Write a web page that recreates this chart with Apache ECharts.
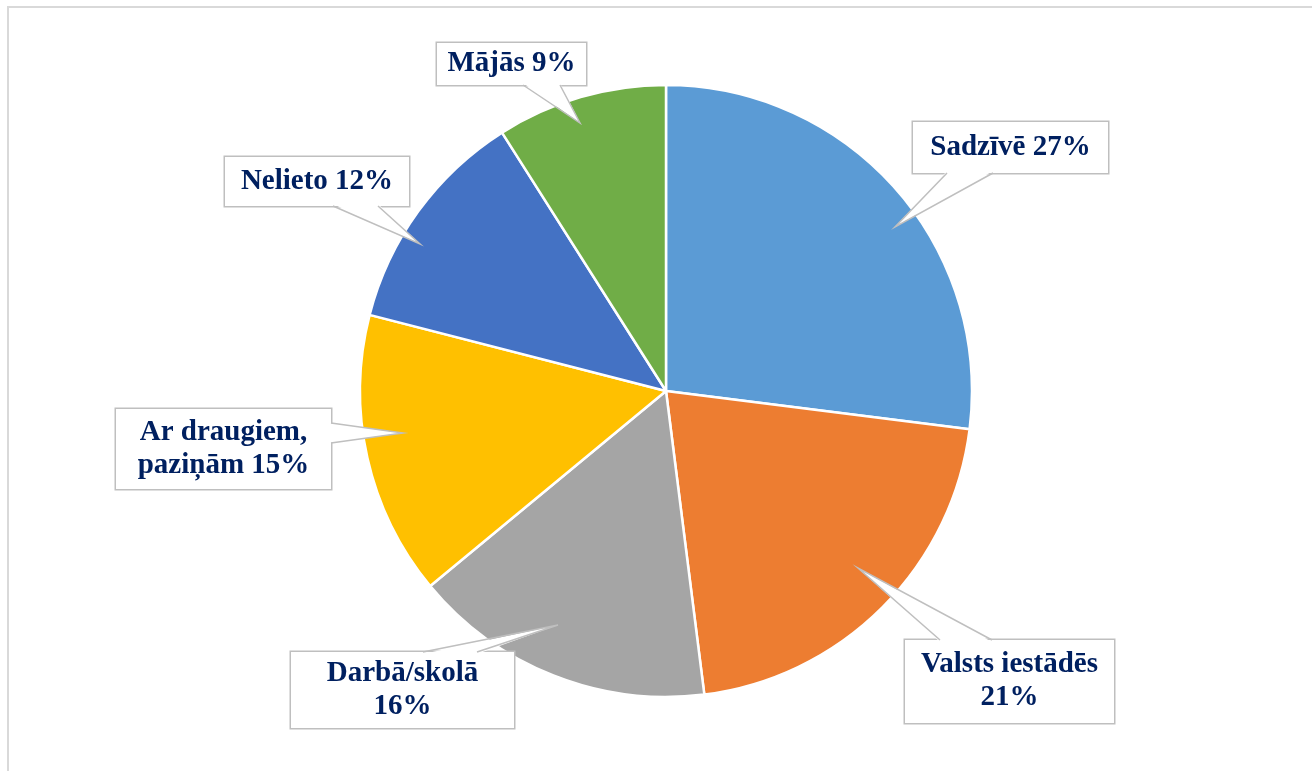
<!DOCTYPE html>
<html>
<head>
<meta charset="utf-8">
<script src="https://cdn.jsdelivr.net/npm/echarts@6/dist/echarts.min.js"></script>
<style>
  html, body { margin: 0; padding: 0; background: #fff; }
  #chart { width: 1312px; height: 771px; }
</style>
</head>
<body>
<div id="chart"></div>
<script>
// dati
const categories = ['Sadzīvē', 'Valsts iestādēs', 'Darbā/skolā', 'Ar draugiem, paziņām', 'Nelieto', 'Mājās'];
const values = [27, 21, 16, 15, 12, 9];
const colors = ['#5B9BD5', '#ED7D31', '#A5A5A5', '#FFC000', '#4472C4', '#70AD47'];
// etiķešu teksts (kā attēlā)
const labelTexts = ['Sadzīvē 27%', 'Valsts iestādēs\n21%', 'Darbā/skolā\n16%', 'Ar draugiem,\npaziņām 15%', 'Nelieto 12%', 'Mājās 9%'];

// etiķešu rāmji: centrs x, y, platums, augstums
const boxes = [
  [1010.5, 147.5, 195, 51],
  [1009.5, 681.5, 209, 83],
  [402.5, 690, 223, 76],
  [223.5, 449, 215, 80],
  [317, 181.5, 184, 49],
  [511.5, 64, 149, 42]
];
// izsaukumu "astes": rāmja mala (pamats), pamata punkti un gals
const callouts = [
  { side: 'bottom', a: [947, 173], b: [993, 173], tip: [895, 227] },
  { side: 'top', a: [940, 640], b: [992, 640], tip: [858, 568] },
  { side: 'top', a: [423, 652], b: [477, 652], tip: [558, 625] },
  { side: 'right', a: [331, 423], b: [331, 443], tip: [403, 433] },
  { side: 'bottom', a: [333, 206], b: [378, 206], tip: [420, 244] },
  { side: 'bottom', a: [523, 85], b: [560, 85], tip: [580, 123] }
];

const chart = echarts.init(document.getElementById('chart'), null, { renderer: 'canvas' });

const seriesData = categories.map((name, i) => {
  const lines = labelTexts[i].split('\n').length;
  const padV = Math.max(0, (boxes[i][3] - lines * 33) / 2);
  return {
    name: name,
    value: values[i],
    itemStyle: { color: colors[i] },
    label: {
      width: boxes[i][2] - 4,
      padding: [padV, 2, padV, 2]
    }
  };
});

// izsaukumu astes (balts pildījums + pelēka kontūra)
const shift = { bottom: [0, -2], top: [0, 2], right: [-2, 0], left: [2, 0] };
const calloutGraphics = [];
callouts.forEach(c => {
  const s = shift[c.side];
  calloutGraphics.push({
    type: 'polygon',
    z: 100,
    silent: true,
    shape: { points: [[c.a[0] + s[0], c.a[1] + s[1]], c.tip, [c.b[0] + s[0], c.b[1] + s[1]]] },
    style: { fill: '#fff', stroke: null }
  });
  calloutGraphics.push({
    type: 'polyline',
    z: 101,
    silent: true,
    shape: { points: [c.a, c.tip, c.b] },
    style: { fill: null, stroke: '#BFBFBF', lineWidth: 1.5 }
  });
});

chart.setOption({
  animation: false,
  backgroundColor: '#fff',
  graphic: [
    {
      type: 'rect',
      silent: true,
      shape: { x: 8, y: 7, width: 1320, height: 780 },
      style: { fill: 'none', stroke: '#D9D9D9', lineWidth: 2 }
    }
  ].concat(calloutGraphics),
  series: [
    {
      type: 'pie',
      center: [666, 391],
      radius: 306,
      startAngle: 90,
      clockwise: true,
      data: seriesData,
      itemStyle: {
        borderColor: '#fff',
        borderWidth: 2.5
      },
      label: {
        show: true,
        position: 'outside',
        formatter: p => labelTexts[p.dataIndex],
        fontFamily: '"Liberation Serif", "Times New Roman", serif',
        fontWeight: 'bold',
        fontSize: 29,
        lineHeight: 33,
        color: '#002060',
        backgroundColor: '#fff',
        borderColor: '#BFBFBF',
        borderWidth: 1.5,
        align: 'center',
        verticalAlign: 'middle'
      },
      labelLine: { show: false },
      labelLayout: params => {
        const b = boxes[params.dataIndex];
        return { x: b[0], y: b[1], align: 'center', verticalAlign: 'middle', moveOverlap: false };
      }
    }
  ]
});
</script>
</body>
</html>
